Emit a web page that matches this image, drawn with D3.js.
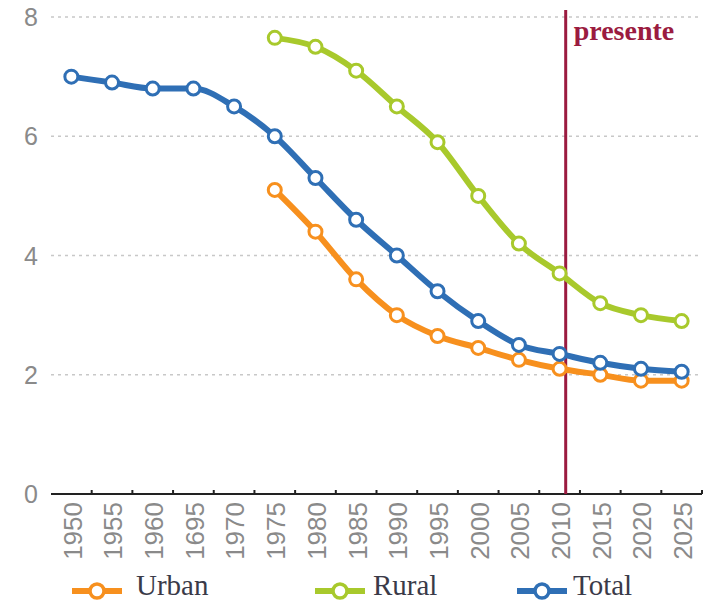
<!DOCTYPE html>
<html>
<head>
<meta charset="utf-8">
<script src="https://cdn.jsdelivr.net/npm/d3@7"></script>
<style>
  body { margin: 0; background: #fff; }
  svg { display: block; }
</style>
</head>
<body>
<svg id="chart" width="708" height="602"></svg>
<script>
// tick labels as printed (note the "1695" typo in the original)
const years = ["1950", "1955", "1960", "1695", "1970", "1975", "1980", "1985",
  "1990", "1995", "2000", "2005", "2010", "2015", "2020", "2025"];
const yTicks = [0, 2, 4, 6, 8];

const totalValues = [7.0, 6.9, 6.8, 6.8, 6.5, 6.0, 5.3, 4.6, 4.0, 3.4, 2.9, 2.5, 2.35, 2.2, 2.1, 2.05];
// urban and rural start in 1975
const urbanValues = [null, null, null, null, null, 5.1, 4.4, 3.6, 3.0, 2.65, 2.45, 2.25, 2.1, 2.0, 1.9, 1.9];
const ruralValues = [null, null, null, null, null, 7.65, 7.5, 7.1, 6.5, 5.9, 5.0, 4.2, 3.7, 3.2, 3.0, 2.9];

const seriesNames = ["Urban", "Rural", "Total"];
const seriesColors = ["#f7901e", "#a8c92c", "#2f6fb5"];

const svg = d3.select("#chart");

const x = d3.scaleBand().domain(years).range([51, 702]).padding(0);
const y = d3.scaleLinear().domain([0, 8]).range([494, 17]);

// dotted gridlines
svg.append("g")
  .selectAll("line")
  .data(yTicks.filter(d => d > 0))
  .enter()
  .append("line")
  .attr("x1", 51)
  .attr("x2", 698)
  .attr("y1", d => y(d))
  .attr("y2", d => y(d))
  .attr("stroke", "#c8c8c8")
  .attr("stroke-width", 1.5)
  .attr("stroke-dasharray", "3,4");

// y labels
svg.append("g")
  .selectAll("text")
  .data(yTicks)
  .enter()
  .append("text")
  .attr("x", 31)
  .attr("y", d => y(d))
  .attr("dy", "0.36em")
  .attr("text-anchor", "middle")
  .attr("font-family", "Liberation Sans, Arial, sans-serif")
  .attr("font-size", 25)
  .attr("fill", "#8a8a8a")
  .text(d => d);

// x axis
const xAxis = svg.append("g").attr("transform", `translate(0,${y(0)})`);
xAxis.append("line")
  .attr("x1", 51).attr("x2", 702)
  .attr("stroke", "#222").attr("stroke-width", 2);
xAxis.selectAll(".tick")
  .data(years)
  .enter()
  .append("line")
  .attr("x1", d => x(d) + x.step())
  .attr("x2", d => x(d) + x.step())
  .attr("y1", 0).attr("y2", -4)
  .attr("stroke", "#222").attr("stroke-width", 2);
xAxis.selectAll("text")
  .data(years)
  .enter()
  .append("text")
  .attr("transform", d => `translate(${x(d) + x.bandwidth() / 2 + 1},8) rotate(-90)`)
  .attr("dy", "0.36em")
  .attr("text-anchor", "end")
  .attr("font-family", "Liberation Sans, Arial, sans-serif")
  .attr("font-size", 26)
  .attr("fill", "#8a8a8a")
  .text(d => d);

// "presente" marker, a bit after 2010
const presentX = x("2010") + x.bandwidth() / 2 + x.step() * 0.15;
svg.append("line")
  .attr("x1", presentX).attr("x2", presentX)
  .attr("y1", 10).attr("y2", y(0))
  .attr("stroke", "#9b1b40").attr("stroke-width", 3);
svg.append("text")
  .attr("x", presentX + 8)
  .attr("y", 40)
  .attr("font-family", "Liberation Serif, Times New Roman, serif")
  .attr("font-weight", "bold")
  .attr("font-size", 28)
  .attr("fill", "#9b1b40")
  .text("presente");

// lines and markers
const allSeries = [urbanValues, ruralValues, totalValues];
const line = d3.line()
  .defined(d => d != null)
  .x((d, i) => x(years[i]) + x.bandwidth() / 2)
  .y(d => y(d))
  .curve(d3.curveMonotoneX);

allSeries.forEach((values, s) => {
  const g = svg.append("g");
  g.append("path")
    .datum(values)
    .attr("d", line)
    .attr("fill", "none")
    .attr("stroke", seriesColors[s])
    .attr("stroke-width", 6)
    .attr("stroke-linejoin", "round");

  g.selectAll("circle")
    .data(values.map((v, i) => ({ v, i })).filter(d => d.v != null))
    .enter()
    .append("circle")
    .attr("cx", d => x(years[d.i]) + x.bandwidth() / 2)
    .attr("cy", d => y(d.v))
    .attr("r", 6.5)
    .attr("fill", "#fff")
    .attr("stroke", seriesColors[s])
    .attr("stroke-width", 3);
});

// legend
const legendX = [72, 315, 517];
const legendTextX = [136, 373, 573];
const legend = svg.append("g")
  .selectAll("g")
  .data(seriesNames)
  .enter()
  .append("g");
legend.append("line")
  .attr("x1", (d, i) => legendX[i]).attr("x2", (d, i) => legendX[i] + 50)
  .attr("y1", 591).attr("y2", 591)
  .attr("stroke", (d, i) => seriesColors[i])
  .attr("stroke-width", 6);
legend.append("circle")
  .attr("cx", (d, i) => legendX[i] + 25).attr("cy", 591).attr("r", 7)
  .attr("fill", "#fff")
  .attr("stroke", (d, i) => seriesColors[i])
  .attr("stroke-width", 3.5);
legend.append("text")
  .attr("x", (d, i) => legendTextX[i])
  .attr("y", 595)
  .attr("font-family", "Liberation Serif, Times New Roman, serif")
  .attr("font-size", 29)
  .attr("fill", "#3a3a48")
  .text(d => d);
</script>
</body>
</html>
